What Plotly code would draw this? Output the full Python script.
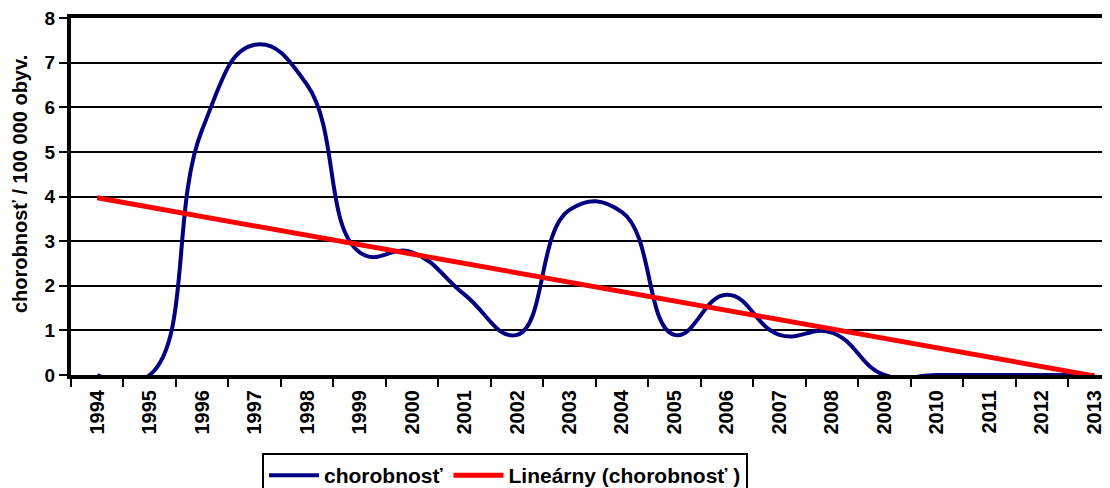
import numpy as np
import plotly.graph_objects as go

years = [str(y) for y in range(1994, 2014)]
chorobnost = [0, 0, 5.5, 7.4, 6.5, 2.75, 2.75, 1.8, 0.9, 3.7, 3.65, 0.9, 1.8, 0.9, 0.95, 0, 0, 0, 0, 0]
y_ticks = [0, 1, 2, 3, 4, 5, 6, 7, 8]

# linear trend (Excel "Lineárny" trendline) fitted to the data
idx = np.arange(len(chorobnost))
slope, intercept = np.polyfit(idx, chorobnost, 1)
trend = list(slope * idx + intercept)

FONT = "Liberation Sans, Arial, sans-serif"
W, H = 1102, 480          # page body has an 8px margin
ML, MT, MB = 63, 10, 113
PW, PH = W - ML, H - MT - MB

fig = go.Figure()
fig.add_trace(go.Scatter(
    x=years, y=chorobnost, mode="lines", name="chorobnosť",
    line=dict(color="#000080", width=4, shape="spline", smoothing=1.3),
))
fig.add_trace(go.Scatter(
    x=years, y=trend, mode="lines", name="Lineárny (chorobnosť )",
    line=dict(color="#FF0000", width=5),
))

fig.update_layout(
    width=W, height=H,
    margin=dict(l=ML, r=0, t=MT, b=MB, autoexpand=False),
    paper_bgcolor="white", plot_bgcolor="white",
    font=dict(family=FONT, size=20, color="black", weight="bold"),
    showlegend=True,
    legend=dict(
        orientation="h", xref="container", yref="container",
        x=254 / W, xanchor="left", y=1 - 445 / H, yanchor="top",
        bordercolor="black", borderwidth=2, bgcolor="white",
        font=dict(family=FONT, size=21, color="black", weight="bold"),
        itemwidth=50, tracegroupgap=0,
    ),
    annotations=[dict(
        text="chorobnosť / 100 000 obyv.", textangle=-90,
        xref="paper", yref="paper",
        x=(12 - ML) / PW, y=(H - MB - 176) / PH,
        xanchor="center", yanchor="middle", showarrow=False,
        font=dict(family=FONT, size=20, color="black", weight="bold"),
    )],
)
fig.update_xaxes(
    type="category", range=[-0.5, 19.30],
    showline=True, linecolor="black", linewidth=4, mirror=True,
    showgrid=False, zeroline=False,
    ticks="outside", tickson="boundaries", ticklen=8, tickwidth=2, tickcolor="black",
    tickangle=-90, ticklabelstandoff=3,
    tickfont=dict(family=FONT, size=20, color="black", weight="bold"),
    automargin=False,
)
fig.update_yaxes(
    range=[0, 8], tickvals=y_ticks,
    showline=True, linecolor="black", linewidth=4,
    showgrid=True, gridcolor="black", gridwidth=2, zeroline=False,
    ticks="outside", ticklen=8, tickwidth=2, tickcolor="black",
    ticklabelstandoff=0, ticklabeloverflow="allow",
    tickfont=dict(family=FONT, size=19, color="black", weight="bold"),
    automargin=False,
)

fig.write_html("out.html")
